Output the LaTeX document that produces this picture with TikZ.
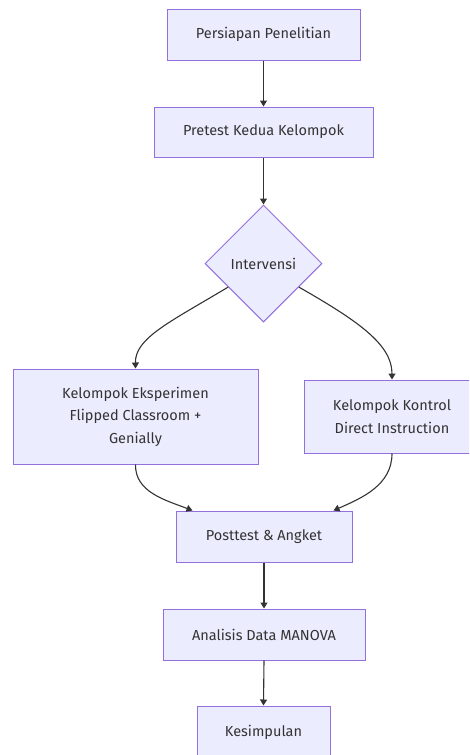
\documentclass[tikz,border=0pt]{standalone}
\usepackage{fontspec}
\setmainfont{Fira Sans}
\usetikzlibrary{shapes.geometric,arrows.meta,calc}
\definecolor{boxfill}{HTML}{ECECFF}
\definecolor{boxline}{HTML}{9370DB}
\definecolor{edge}{HTML}{333333}
\definecolor{txt}{HTML}{333333}
\tikzset{
  stepbox/.style={draw=boxline, fill=boxfill, line width=1pt, rectangle, inner sep=0pt,
    text=txt, font=\fontsize{14.5}{22.5}\selectfont, align=center},
  decide/.style={draw=boxline, fill=boxfill, line width=1pt, diamond, aspect=1, inner sep=0pt,
    minimum width=117pt, minimum height=117pt, text=txt, font=\fontsize{14.5}{22.5}\selectfont},
  conn/.style={draw=edge, line width=1.1pt, -{Triangle[width=7pt,length=6pt]}}
}
\begin{document}
\begin{tikzpicture}[x=1pt,y=-1pt]
\useasboundingbox (0,0) rectangle (469,755);
\clip (0,0) rectangle (469,755);
\node[stepbox, minimum width=193pt, minimum height=51pt] (p1) at (263.5,34.5) {Persiapan Penelitian};
\node[stepbox, minimum width=219pt, minimum height=50pt] (p2) at (263.5,132) {Pretest Kedua Kelompok};
\node[decide] (dia) at (263.5,263.5) {Intervensi};
\node[stepbox, minimum width=245pt, minimum height=95pt] (eks) at (135.5,416.5) {Kelompok Eksperimen\\Flipped Classroom +\\Genially};
\node[stepbox, minimum width=176pt, minimum height=73pt] (kon) at (392,416.5) {Kelompok Kontrol\\Direct Instruction};
\node[stepbox, minimum width=176pt, minimum height=51pt] (post) at (264,536.5) {Posttest \& Angket};
\node[stepbox, minimum width=202pt, minimum height=51pt] (ana) at (264,634.5) {Analisis Data MANOVA};
\node[stepbox, minimum width=133pt, minimum height=52pt] (kes) at (263.5,732) {Kesimpulan};
\coordinate (dl) at ($(dia.west)!0.4!(dia.south)$);
\coordinate (dr) at ($(dia.east)!0.4!(dia.south)$);
\coordinate (pl) at ([xshift=17pt]post.north west);
\coordinate (pr) at ([xshift=-19pt]post.north east);
\draw[conn] (p1.south) -- (p2.north);
\draw[conn] (p2.south) -- (dia.north);
\draw[conn] (dl) .. controls (170,322) and (135,338) .. (eks.north);
\draw[conn] (dr) .. controls (360,322) and (392,345) .. (kon.north);
\draw[conn] (eks.south) .. controls (135,492) and (165,500) .. (pl);
\draw[conn] (kon.south) .. controls (392,485) and (362,498) .. (pr);
\draw[conn] (post.south) -- (ana.north);
\draw[conn] (ana.south) -- (kes.north);
\end{tikzpicture}
\end{document}
